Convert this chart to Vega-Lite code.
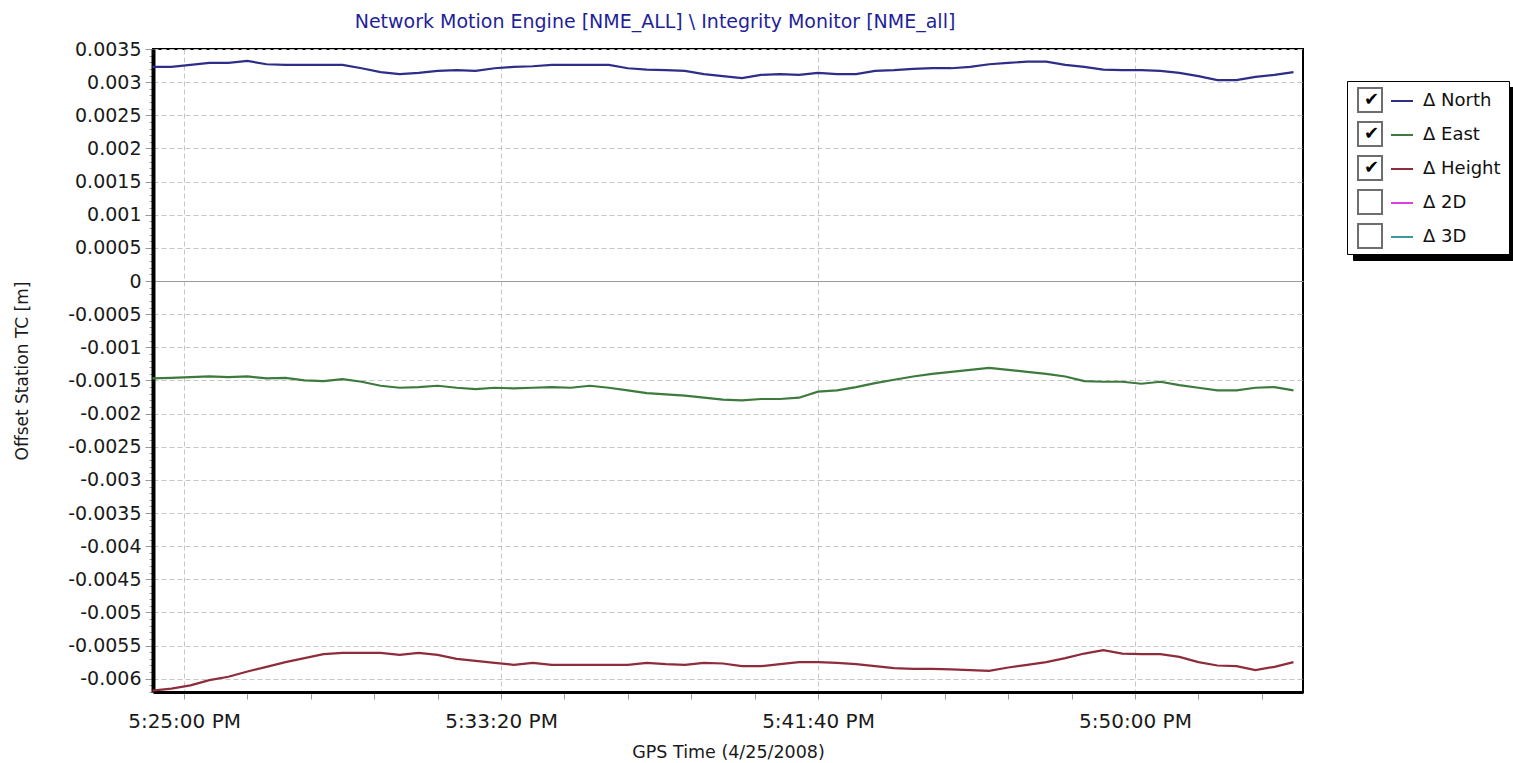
{
  "$schema": "https://vega.github.io/schema/vega-lite/v6.json",
  "autosize": "none",
  "width": 1150,
  "height": 643,
  "padding": {"left": 153, "top": 49, "right": 210, "bottom": 71},
  "background": "#ffffff",
  "config": {
    "font": "DejaVu Sans",
    "view": {"stroke": "#000000", "strokeWidth": 2}
  },
  "title": {
    "text": "Network Motion Engine [NME_ALL] \\ Integrity Monitor [NME_all]",
    "color": "#1f1f99",
    "font": "DejaVu Sans",
    "fontSize": 19,
    "fontWeight": "normal",
    "anchor": "middle",
    "dx": -73,
    "offset": 8
  },
  "datasets": {
    "offsets": [
      {"t": "2008-04-25T17:24:10", "series": "Δ North", "v": 0.00323},
      {"t": "2008-04-25T17:24:40", "series": "Δ North", "v": 0.00323},
      {"t": "2008-04-25T17:25:10", "series": "Δ North", "v": 0.00326},
      {"t": "2008-04-25T17:25:40", "series": "Δ North", "v": 0.00329},
      {"t": "2008-04-25T17:26:10", "series": "Δ North", "v": 0.00329},
      {"t": "2008-04-25T17:26:40", "series": "Δ North", "v": 0.00332},
      {"t": "2008-04-25T17:27:10", "series": "Δ North", "v": 0.00327},
      {"t": "2008-04-25T17:27:40", "series": "Δ North", "v": 0.00326},
      {"t": "2008-04-25T17:28:10", "series": "Δ North", "v": 0.00326},
      {"t": "2008-04-25T17:28:40", "series": "Δ North", "v": 0.00326},
      {"t": "2008-04-25T17:29:10", "series": "Δ North", "v": 0.00326},
      {"t": "2008-04-25T17:29:40", "series": "Δ North", "v": 0.00321},
      {"t": "2008-04-25T17:30:10", "series": "Δ North", "v": 0.00315},
      {"t": "2008-04-25T17:30:40", "series": "Δ North", "v": 0.00312},
      {"t": "2008-04-25T17:31:10", "series": "Δ North", "v": 0.00314},
      {"t": "2008-04-25T17:31:40", "series": "Δ North", "v": 0.00317},
      {"t": "2008-04-25T17:32:10", "series": "Δ North", "v": 0.00318},
      {"t": "2008-04-25T17:32:40", "series": "Δ North", "v": 0.00317},
      {"t": "2008-04-25T17:33:10", "series": "Δ North", "v": 0.00321},
      {"t": "2008-04-25T17:33:40", "series": "Δ North", "v": 0.00323},
      {"t": "2008-04-25T17:34:10", "series": "Δ North", "v": 0.00324},
      {"t": "2008-04-25T17:34:40", "series": "Δ North", "v": 0.00326},
      {"t": "2008-04-25T17:35:10", "series": "Δ North", "v": 0.00326},
      {"t": "2008-04-25T17:35:40", "series": "Δ North", "v": 0.00326},
      {"t": "2008-04-25T17:36:10", "series": "Δ North", "v": 0.00326},
      {"t": "2008-04-25T17:36:40", "series": "Δ North", "v": 0.00321},
      {"t": "2008-04-25T17:37:10", "series": "Δ North", "v": 0.00319},
      {"t": "2008-04-25T17:37:40", "series": "Δ North", "v": 0.00318},
      {"t": "2008-04-25T17:38:10", "series": "Δ North", "v": 0.00317},
      {"t": "2008-04-25T17:38:40", "series": "Δ North", "v": 0.00312},
      {"t": "2008-04-25T17:39:10", "series": "Δ North", "v": 0.00309},
      {"t": "2008-04-25T17:39:40", "series": "Δ North", "v": 0.00306},
      {"t": "2008-04-25T17:40:10", "series": "Δ North", "v": 0.00311},
      {"t": "2008-04-25T17:40:40", "series": "Δ North", "v": 0.00312},
      {"t": "2008-04-25T17:41:10", "series": "Δ North", "v": 0.00311},
      {"t": "2008-04-25T17:41:40", "series": "Δ North", "v": 0.00314},
      {"t": "2008-04-25T17:42:10", "series": "Δ North", "v": 0.00312},
      {"t": "2008-04-25T17:42:40", "series": "Δ North", "v": 0.00312},
      {"t": "2008-04-25T17:43:10", "series": "Δ North", "v": 0.00317},
      {"t": "2008-04-25T17:43:40", "series": "Δ North", "v": 0.00318},
      {"t": "2008-04-25T17:44:10", "series": "Δ North", "v": 0.00320},
      {"t": "2008-04-25T17:44:40", "series": "Δ North", "v": 0.00321},
      {"t": "2008-04-25T17:45:10", "series": "Δ North", "v": 0.00321},
      {"t": "2008-04-25T17:45:40", "series": "Δ North", "v": 0.00323},
      {"t": "2008-04-25T17:46:10", "series": "Δ North", "v": 0.00327},
      {"t": "2008-04-25T17:46:40", "series": "Δ North", "v": 0.00329},
      {"t": "2008-04-25T17:47:10", "series": "Δ North", "v": 0.00331},
      {"t": "2008-04-25T17:47:40", "series": "Δ North", "v": 0.00331},
      {"t": "2008-04-25T17:48:10", "series": "Δ North", "v": 0.00326},
      {"t": "2008-04-25T17:48:40", "series": "Δ North", "v": 0.00323},
      {"t": "2008-04-25T17:49:10", "series": "Δ North", "v": 0.00319},
      {"t": "2008-04-25T17:49:40", "series": "Δ North", "v": 0.00318},
      {"t": "2008-04-25T17:50:10", "series": "Δ North", "v": 0.00318},
      {"t": "2008-04-25T17:50:40", "series": "Δ North", "v": 0.00317},
      {"t": "2008-04-25T17:51:10", "series": "Δ North", "v": 0.00314},
      {"t": "2008-04-25T17:51:40", "series": "Δ North", "v": 0.00309},
      {"t": "2008-04-25T17:52:10", "series": "Δ North", "v": 0.00303},
      {"t": "2008-04-25T17:52:40", "series": "Δ North", "v": 0.00303},
      {"t": "2008-04-25T17:53:10", "series": "Δ North", "v": 0.00308},
      {"t": "2008-04-25T17:53:40", "series": "Δ North", "v": 0.00311},
      {"t": "2008-04-25T17:54:10", "series": "Δ North", "v": 0.00315},

      {"t": "2008-04-25T17:24:10", "series": "Δ East", "v": -0.00147},
      {"t": "2008-04-25T17:24:40", "series": "Δ East", "v": -0.00146},
      {"t": "2008-04-25T17:25:10", "series": "Δ East", "v": -0.00145},
      {"t": "2008-04-25T17:25:40", "series": "Δ East", "v": -0.00144},
      {"t": "2008-04-25T17:26:10", "series": "Δ East", "v": -0.00145},
      {"t": "2008-04-25T17:26:40", "series": "Δ East", "v": -0.00144},
      {"t": "2008-04-25T17:27:10", "series": "Δ East", "v": -0.00147},
      {"t": "2008-04-25T17:27:40", "series": "Δ East", "v": -0.00146},
      {"t": "2008-04-25T17:28:10", "series": "Δ East", "v": -0.00150},
      {"t": "2008-04-25T17:28:40", "series": "Δ East", "v": -0.00151},
      {"t": "2008-04-25T17:29:10", "series": "Δ East", "v": -0.00148},
      {"t": "2008-04-25T17:29:40", "series": "Δ East", "v": -0.00152},
      {"t": "2008-04-25T17:30:10", "series": "Δ East", "v": -0.00158},
      {"t": "2008-04-25T17:30:40", "series": "Δ East", "v": -0.00161},
      {"t": "2008-04-25T17:31:10", "series": "Δ East", "v": -0.00160},
      {"t": "2008-04-25T17:31:40", "series": "Δ East", "v": -0.00158},
      {"t": "2008-04-25T17:32:10", "series": "Δ East", "v": -0.00161},
      {"t": "2008-04-25T17:32:40", "series": "Δ East", "v": -0.00163},
      {"t": "2008-04-25T17:33:10", "series": "Δ East", "v": -0.00161},
      {"t": "2008-04-25T17:33:40", "series": "Δ East", "v": -0.00162},
      {"t": "2008-04-25T17:34:10", "series": "Δ East", "v": -0.00161},
      {"t": "2008-04-25T17:34:40", "series": "Δ East", "v": -0.00160},
      {"t": "2008-04-25T17:35:10", "series": "Δ East", "v": -0.00161},
      {"t": "2008-04-25T17:35:40", "series": "Δ East", "v": -0.00158},
      {"t": "2008-04-25T17:36:10", "series": "Δ East", "v": -0.00161},
      {"t": "2008-04-25T17:36:40", "series": "Δ East", "v": -0.00165},
      {"t": "2008-04-25T17:37:10", "series": "Δ East", "v": -0.00169},
      {"t": "2008-04-25T17:37:40", "series": "Δ East", "v": -0.00171},
      {"t": "2008-04-25T17:38:10", "series": "Δ East", "v": -0.00173},
      {"t": "2008-04-25T17:38:40", "series": "Δ East", "v": -0.00176},
      {"t": "2008-04-25T17:39:10", "series": "Δ East", "v": -0.00179},
      {"t": "2008-04-25T17:39:40", "series": "Δ East", "v": -0.00180},
      {"t": "2008-04-25T17:40:10", "series": "Δ East", "v": -0.00178},
      {"t": "2008-04-25T17:40:40", "series": "Δ East", "v": -0.00178},
      {"t": "2008-04-25T17:41:10", "series": "Δ East", "v": -0.00176},
      {"t": "2008-04-25T17:41:40", "series": "Δ East", "v": -0.00167},
      {"t": "2008-04-25T17:42:10", "series": "Δ East", "v": -0.00165},
      {"t": "2008-04-25T17:42:40", "series": "Δ East", "v": -0.00160},
      {"t": "2008-04-25T17:43:10", "series": "Δ East", "v": -0.00154},
      {"t": "2008-04-25T17:43:40", "series": "Δ East", "v": -0.00149},
      {"t": "2008-04-25T17:44:10", "series": "Δ East", "v": -0.00144},
      {"t": "2008-04-25T17:44:40", "series": "Δ East", "v": -0.00140},
      {"t": "2008-04-25T17:45:10", "series": "Δ East", "v": -0.00137},
      {"t": "2008-04-25T17:45:40", "series": "Δ East", "v": -0.00134},
      {"t": "2008-04-25T17:46:10", "series": "Δ East", "v": -0.00131},
      {"t": "2008-04-25T17:46:40", "series": "Δ East", "v": -0.00134},
      {"t": "2008-04-25T17:47:10", "series": "Δ East", "v": -0.00137},
      {"t": "2008-04-25T17:47:40", "series": "Δ East", "v": -0.00140},
      {"t": "2008-04-25T17:48:10", "series": "Δ East", "v": -0.00144},
      {"t": "2008-04-25T17:48:40", "series": "Δ East", "v": -0.00151},
      {"t": "2008-04-25T17:49:10", "series": "Δ East", "v": -0.00152},
      {"t": "2008-04-25T17:49:40", "series": "Δ East", "v": -0.00152},
      {"t": "2008-04-25T17:50:10", "series": "Δ East", "v": -0.00155},
      {"t": "2008-04-25T17:50:40", "series": "Δ East", "v": -0.00152},
      {"t": "2008-04-25T17:51:10", "series": "Δ East", "v": -0.00157},
      {"t": "2008-04-25T17:51:40", "series": "Δ East", "v": -0.00161},
      {"t": "2008-04-25T17:52:10", "series": "Δ East", "v": -0.00165},
      {"t": "2008-04-25T17:52:40", "series": "Δ East", "v": -0.00165},
      {"t": "2008-04-25T17:53:10", "series": "Δ East", "v": -0.00161},
      {"t": "2008-04-25T17:53:40", "series": "Δ East", "v": -0.00160},
      {"t": "2008-04-25T17:54:10", "series": "Δ East", "v": -0.00165},

      {"t": "2008-04-25T17:24:10", "series": "Δ Height", "v": -0.00618},
      {"t": "2008-04-25T17:24:40", "series": "Δ Height", "v": -0.00615},
      {"t": "2008-04-25T17:25:10", "series": "Δ Height", "v": -0.00610},
      {"t": "2008-04-25T17:25:40", "series": "Δ Height", "v": -0.00602},
      {"t": "2008-04-25T17:26:10", "series": "Δ Height", "v": -0.00597},
      {"t": "2008-04-25T17:26:40", "series": "Δ Height", "v": -0.00589},
      {"t": "2008-04-25T17:27:10", "series": "Δ Height", "v": -0.00582},
      {"t": "2008-04-25T17:27:40", "series": "Δ Height", "v": -0.00575},
      {"t": "2008-04-25T17:28:10", "series": "Δ Height", "v": -0.00569},
      {"t": "2008-04-25T17:28:40", "series": "Δ Height", "v": -0.00563},
      {"t": "2008-04-25T17:29:10", "series": "Δ Height", "v": -0.00561},
      {"t": "2008-04-25T17:29:40", "series": "Δ Height", "v": -0.00561},
      {"t": "2008-04-25T17:30:10", "series": "Δ Height", "v": -0.00561},
      {"t": "2008-04-25T17:30:40", "series": "Δ Height", "v": -0.00564},
      {"t": "2008-04-25T17:31:10", "series": "Δ Height", "v": -0.00561},
      {"t": "2008-04-25T17:31:40", "series": "Δ Height", "v": -0.00564},
      {"t": "2008-04-25T17:32:10", "series": "Δ Height", "v": -0.00570},
      {"t": "2008-04-25T17:32:40", "series": "Δ Height", "v": -0.00573},
      {"t": "2008-04-25T17:33:10", "series": "Δ Height", "v": -0.00576},
      {"t": "2008-04-25T17:33:40", "series": "Δ Height", "v": -0.00579},
      {"t": "2008-04-25T17:34:10", "series": "Δ Height", "v": -0.00576},
      {"t": "2008-04-25T17:34:40", "series": "Δ Height", "v": -0.00579},
      {"t": "2008-04-25T17:35:10", "series": "Δ Height", "v": -0.00579},
      {"t": "2008-04-25T17:35:40", "series": "Δ Height", "v": -0.00579},
      {"t": "2008-04-25T17:36:10", "series": "Δ Height", "v": -0.00579},
      {"t": "2008-04-25T17:36:40", "series": "Δ Height", "v": -0.00579},
      {"t": "2008-04-25T17:37:10", "series": "Δ Height", "v": -0.00576},
      {"t": "2008-04-25T17:37:40", "series": "Δ Height", "v": -0.00578},
      {"t": "2008-04-25T17:38:10", "series": "Δ Height", "v": -0.00579},
      {"t": "2008-04-25T17:38:40", "series": "Δ Height", "v": -0.00576},
      {"t": "2008-04-25T17:39:10", "series": "Δ Height", "v": -0.00577},
      {"t": "2008-04-25T17:39:40", "series": "Δ Height", "v": -0.00581},
      {"t": "2008-04-25T17:40:10", "series": "Δ Height", "v": -0.00581},
      {"t": "2008-04-25T17:40:40", "series": "Δ Height", "v": -0.00578},
      {"t": "2008-04-25T17:41:10", "series": "Δ Height", "v": -0.00575},
      {"t": "2008-04-25T17:41:40", "series": "Δ Height", "v": -0.00575},
      {"t": "2008-04-25T17:42:10", "series": "Δ Height", "v": -0.00576},
      {"t": "2008-04-25T17:42:40", "series": "Δ Height", "v": -0.00578},
      {"t": "2008-04-25T17:43:10", "series": "Δ Height", "v": -0.00581},
      {"t": "2008-04-25T17:43:40", "series": "Δ Height", "v": -0.00584},
      {"t": "2008-04-25T17:44:10", "series": "Δ Height", "v": -0.00585},
      {"t": "2008-04-25T17:44:40", "series": "Δ Height", "v": -0.00585},
      {"t": "2008-04-25T17:45:10", "series": "Δ Height", "v": -0.00586},
      {"t": "2008-04-25T17:45:40", "series": "Δ Height", "v": -0.00587},
      {"t": "2008-04-25T17:46:10", "series": "Δ Height", "v": -0.00588},
      {"t": "2008-04-25T17:46:40", "series": "Δ Height", "v": -0.00583},
      {"t": "2008-04-25T17:47:10", "series": "Δ Height", "v": -0.00579},
      {"t": "2008-04-25T17:47:40", "series": "Δ Height", "v": -0.00575},
      {"t": "2008-04-25T17:48:10", "series": "Δ Height", "v": -0.00569},
      {"t": "2008-04-25T17:48:40", "series": "Δ Height", "v": -0.00562},
      {"t": "2008-04-25T17:49:10", "series": "Δ Height", "v": -0.00557},
      {"t": "2008-04-25T17:49:40", "series": "Δ Height", "v": -0.00562},
      {"t": "2008-04-25T17:50:10", "series": "Δ Height", "v": -0.00563},
      {"t": "2008-04-25T17:50:40", "series": "Δ Height", "v": -0.00563},
      {"t": "2008-04-25T17:51:10", "series": "Δ Height", "v": -0.00567},
      {"t": "2008-04-25T17:51:40", "series": "Δ Height", "v": -0.00575},
      {"t": "2008-04-25T17:52:10", "series": "Δ Height", "v": -0.00580},
      {"t": "2008-04-25T17:52:40", "series": "Δ Height", "v": -0.00581},
      {"t": "2008-04-25T17:53:10", "series": "Δ Height", "v": -0.00587},
      {"t": "2008-04-25T17:53:40", "series": "Δ Height", "v": -0.00582},
      {"t": "2008-04-25T17:54:10", "series": "Δ Height", "v": -0.00575}
    ],
    "checkboxes": [
      {"item": "North"},
      {"item": "East"},
      {"item": "Height"},
      {"item": "2D"},
      {"item": "3D"}
    ]
  },
  "layer": [
    {
      "data": {"name": "offsets"},
      "mark": {"type": "line", "strokeWidth": 2.2, "interpolate": "linear"},
      "encoding": {
        "x": {
          "field": "t",
          "type": "temporal",
          "scale": {
            "domain": [
              {"year": 2008, "month": 4, "date": 25, "hours": 17, "minutes": 24, "seconds": 11},
              {"year": 2008, "month": 4, "date": 25, "hours": 17, "minutes": 54, "seconds": 25}
            ],
            "nice": false
          },
          "axis": {
            "title": "GPS Time (4/25/2008)",
            "values": [
              {"year": 2008, "month": 4, "date": 25, "hours": 17, "minutes": 25, "seconds": 0},
              {"year": 2008, "month": 4, "date": 25, "hours": 17, "minutes": 26, "seconds": 40},
              {"year": 2008, "month": 4, "date": 25, "hours": 17, "minutes": 28, "seconds": 20},
              {"year": 2008, "month": 4, "date": 25, "hours": 17, "minutes": 30, "seconds": 0},
              {"year": 2008, "month": 4, "date": 25, "hours": 17, "minutes": 31, "seconds": 40},
              {"year": 2008, "month": 4, "date": 25, "hours": 17, "minutes": 33, "seconds": 20},
              {"year": 2008, "month": 4, "date": 25, "hours": 17, "minutes": 35, "seconds": 0},
              {"year": 2008, "month": 4, "date": 25, "hours": 17, "minutes": 36, "seconds": 40},
              {"year": 2008, "month": 4, "date": 25, "hours": 17, "minutes": 38, "seconds": 20},
              {"year": 2008, "month": 4, "date": 25, "hours": 17, "minutes": 40, "seconds": 0},
              {"year": 2008, "month": 4, "date": 25, "hours": 17, "minutes": 41, "seconds": 40},
              {"year": 2008, "month": 4, "date": 25, "hours": 17, "minutes": 43, "seconds": 20},
              {"year": 2008, "month": 4, "date": 25, "hours": 17, "minutes": 45, "seconds": 0},
              {"year": 2008, "month": 4, "date": 25, "hours": 17, "minutes": 46, "seconds": 40},
              {"year": 2008, "month": 4, "date": 25, "hours": 17, "minutes": 48, "seconds": 20},
              {"year": 2008, "month": 4, "date": 25, "hours": 17, "minutes": 50, "seconds": 0},
              {"year": 2008, "month": 4, "date": 25, "hours": 17, "minutes": 51, "seconds": 40},
              {"year": 2008, "month": 4, "date": 25, "hours": 17, "minutes": 53, "seconds": 20}
            ],
            "labelExpr": "(hours(datum.value)*3600 + minutes(datum.value)*60 + seconds(datum.value)) % 500 === 200 ? timeFormat(datum.value, '%-I:%M:%S %p') : ''",
            "labelFontSize": 20,
            "labelColor": "#1a1a1a",
            "labelPadding": 12,
            "labelFlush": false,
            "labelOverlap": false,
            "tickSize": 7,
            "tickColor": "#9a9a9a",
            "grid": true,
            "gridColor": "#c6c6c6",
            "gridDash": [5, 3],
            "gridOpacity": {
              "condition": {"test": "(hours(datum.value)*3600 + minutes(datum.value)*60 + seconds(datum.value)) % 500 !== 200", "value": 0},
              "value": 1
            },
            "domainColor": "#000000",
            "domainWidth": 3,
            "titleFontSize": 17.5,
            "titleFontWeight": "normal",
            "titleColor": "#1a1a1a",
            "titlePadding": 12
          }
        },
        "y": {
          "field": "v",
          "type": "quantitative",
          "scale": {"domain": [-0.0062, 0.0035], "nice": false, "zero": false},
          "axis": {
            "title": "Offset Station TC [m]",
            "tickCount": 97,
            "labelExpr": "abs(round(datum.value*10000)) % 5 === 0 ? '' + round(datum.value*10000)/10000 : ''",
            "labelFontSize": 19,
            "labelColor": "#1a1a1a",
            "labelPadding": 4,
            "labelOverlap": false,
            "tickColor": "#9a9a9a",
            "tickSize": {
              "condition": {"test": "abs(round(datum.value*10000)) % 5 !== 0", "value": 4},
              "value": 8
            },
            "grid": true,
            "gridOpacity": {
              "condition": {"test": "abs(round(datum.value*10000)) % 5 !== 0", "value": 0},
              "value": 1
            },
            "gridColor": {
              "condition": {"test": "datum.value === 0", "value": "#9a9a9a"},
              "value": "#c6c6c6"
            },
            "gridDash": {
              "condition": {"test": "datum.value === 0", "value": []},
              "value": [5, 3]
            },
            "domainColor": "#000000",
            "domainWidth": 4,
            "titleFontSize": 17,
            "titleFontWeight": "normal",
            "titleColor": "#1a1a1a",
            "titlePadding": 36
          }
        },
        "color": {
          "field": "series",
          "type": "nominal",
          "scale": {
            "domain": ["Δ North", "Δ East", "Δ Height", "Δ 2D", "Δ 3D"],
            "range": ["#2e2e88", "#3d7a3d", "#8e2c3c", "#e03ce0", "#3c9a9a"]
          },
          "legend": {
            "orient": "none",
            "legendX": 1194,
            "legendY": 32,
            "title": null,
            "padding": 8,
            "strokeColor": "#000000",
            "fillColor": "#ffffff",
            "symbolType": "stroke",
            "symbolSize": 484,
            "symbolStrokeWidth": 2,
            "symbolOffset": 35,
            "labelOffset": 9,
            "labelFont": "DejaVu Sans",
            "labelFontSize": 18,
            "labelColor": "#111111",
            "rowPadding": 13,
            "zindex": 1
          }
        }
      }
    },
    {
      "data": {"name": "checkboxes"},
      "mark": {"type": "point", "opacity": 0},
      "encoding": {
        "shape": {
          "field": "item",
          "type": "nominal",
          "scale": {
            "domain": ["North", "East", "Height", "2D", "3D"],
            "range": ["square", "square", "square", "square", "square"]
          },
          "legend": {
            "orient": "none",
            "legendX": 1204,
            "legendY": 38,
            "title": null,
            "padding": 0,
            "symbolSize": 576,
            "symbolOpacity": 1,
            "symbolFillColor": "#ffffff",
            "symbolStrokeColor": "#6e6e6e",
            "symbolStrokeWidth": 2,
            "labelExpr": "indexof(['North', 'East', 'Height'], datum.label) >= 0 ? '✔' : ''",
            "labelOffset": -19,
            "labelFont": "DejaVu Sans",
            "labelFontSize": 18,
            "labelColor": "#000000",
            "rowPadding": 2,
            "zindex": 2
          }
        },
        "size": {
          "field": "item",
          "type": "ordinal",
          "scale": {
            "domain": ["3D", "2D", "Height", "East", "North"],
            "range": [484, 484, 484, 484, 484]
          },
          "legend": {
            "orient": "none",
            "legendX": 1200,
            "legendY": 38,
            "title": null,
            "padding": 8,
            "strokeColor": "#000000",
            "fillColor": "#000000",
            "symbolType": "stroke",
            "symbolOffset": 35,
            "symbolOpacity": 0,
            "labelExpr": "'\u00a0'",
            "labelOffset": 88,
            "labelFont": "DejaVu Sans",
            "labelFontSize": 18,
            "labelColor": "#000000",
            "rowPadding": 13,
            "zindex": 0
          }
        }
      }
    }
  ]
}
